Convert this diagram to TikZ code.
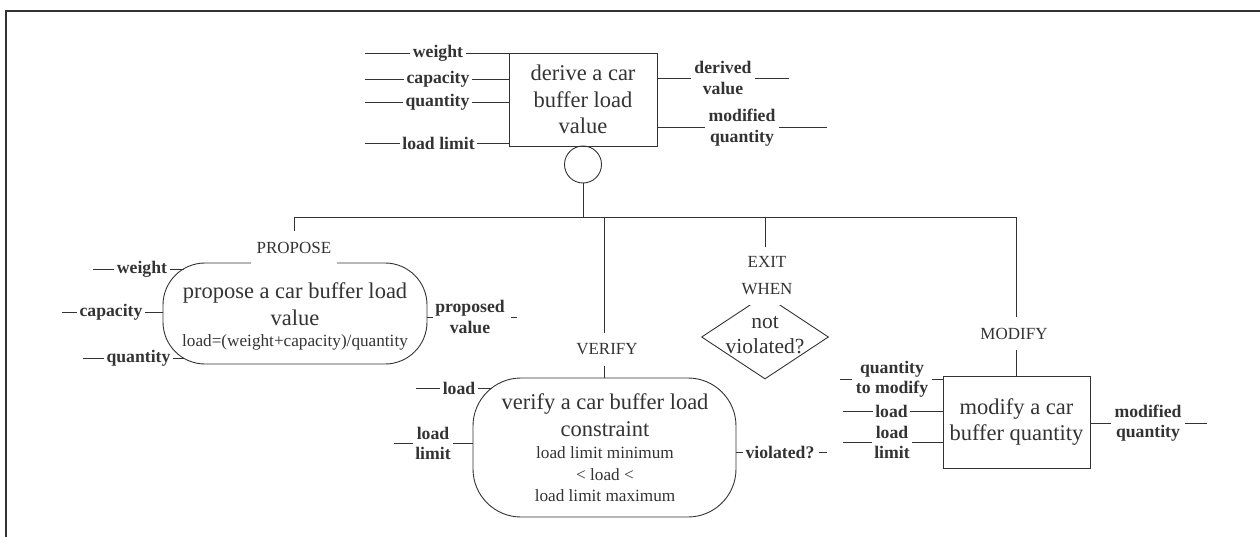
\documentclass[tikz,border=0pt]{standalone}
\usepackage{fontspec}
\setmainfont{Liberation Serif}
\usetikzlibrary{shapes.geometric}
\definecolor{ink}{HTML}{333333}
\begin{document}
\begin{tikzpicture}[x=1pt,y=-1pt,line width=0.9pt,color=ink,
  lbl/.style={font=\bfseries\fontsize{17.7}{20.5}\selectfont,align=center,inner xsep=2pt,inner ysep=1pt},
  bigt/.style={font=\fontsize{22.5}{26.5}\selectfont,align=center,inner sep=0pt},
  smallt/.style={font=\fontsize{17.2}{21.5}\selectfont,align=center,inner sep=0pt},
  capl/.style={font=\fontsize{17}{27}\selectfont,align=center,fill=white,minimum height=34pt,inner xsep=6pt,inner ysep=0pt},
  procbox/.style={draw,inner sep=0pt}]
\useasboundingbox (0,0) rectangle (1260,537);
% frame
\draw[line width=2pt] (6,537) -- (6,11) -- (1260,11);

% ---------- top process ----------
\node[procbox,bigt,minimum width=148pt,minimum height=93pt] (derive) at (583,99.5) {derive a car\\buffer load\\value};
\node[draw,circle,minimum size=37pt,inner sep=0pt] (join) at (583,164.5) {};

\coordinate (barL) at (294,217);
\coordinate (barR) at (1016,217);
\coordinate (barV) at (604,217);
\coordinate (barE) at (765,217);
\draw (barL) -- (barR);
\draw (join.south) -- (join.south |- barL);

% top inputs
\coordinate (dw0) at (365,53);
\coordinate (dc0) at (365,79);
\coordinate (dq0) at (365,102);
\coordinate (dl0) at (365,143);
\node[lbl] (dw) at (438,53) {weight};
\node[lbl] (dc) at (438,79) {capacity};
\node[lbl] (dq) at (437.5,102) {quantity};
\node[lbl] (dl) at (438.5,143) {load limit};
\draw (dw0) -- (dw.west); \draw (dw.east) -- (dw.east -| derive.west);
\draw (dc0) -- (dc.west); \draw (dc.east) -- (dc.east -| derive.west);
\draw (dq0) -- (dq.west); \draw (dq.east) -- (dq.east -| derive.west);
\draw (dl0) -- (dl.west); \draw (dl.east) -- (dl.east -| derive.west);

% top outputs
\node[lbl,inner xsep=3pt] (dv) at (723,78) {derived\\value};
\node[lbl,inner xsep=3pt] (dm) at (742,127.5) {modified\\quantity};
\coordinate (dv1) at (789,78);
\coordinate (dm1) at (827,127.5);
\draw (dv.west -| derive.east) -- (dv.west); \draw (dv.east) -- (dv1);
\draw (dm.west -| derive.east) -- (dm.west); \draw (dm.east) -- (dm1);

% ---------- PROPOSE ----------
\node[procbox,rounded corners=42pt,minimum width=264pt,minimum height=101pt] (propose) at (295,313.5) {};
\node[bigt] (proposeT) at (295,304) {propose a car buffer load\\value};
\node[smallt] (proposeF) at (295,342) {load=(weight+capacity)/quantity};
\node[capl] (proposeL) at (294,248) {PROPOSE};
\draw (barL) -- (proposeL.north);

\coordinate (pw0) at (93,269);
\coordinate (pc0) at (62,312);
\coordinate (pq0) at (83,358);
\coordinate (pw1) at (184,269);
\coordinate (pq1) at (184,358);
\node[lbl] (pw) at (142,269) {weight};
\node[lbl] (pc) at (111,312) {capacity};
\node[lbl] (pq) at (138.5,358) {quantity};
\draw (pw0) -- (pw.west); \draw (pw.east) -- (pw1);
\draw (pc0) -- (pc.west); \draw (pc.east) -- (pc.east -| propose.west);
\draw (pq0) -- (pq.west); \draw (pq.east) -- (pq1);

\node[lbl] (pv) at (470,317) {proposed\\value};
\coordinate (pv1) at (517,317);
\draw (pv.west -| propose.east) -- (pv.west);
\draw ([xshift=4pt]pv.east) -- (pv1);

% ---------- VERIFY ----------
\node[procbox,rounded corners=48pt,minimum width=263pt,minimum height=139pt] (verify) at (604.5,447.5) {};
\node[bigt] (verifyT) at (605,415) {verify a car buffer load\\constraint};
\node[smallt] (verifyF) at (605,474.5) {load limit minimum\\< load <\\load limit maximum};
\node[capl,minimum height=33pt] (verifyL) at (607,349.5) {VERIFY};
\draw (barV) -- (barV |- verifyL.north);
\draw (barV |- verifyL.south) -- (barV |- verify.north);

\coordinate (vl0) at (416,388);
\coordinate (vl1) at (492,388);
\coordinate (vm0) at (394,443.5);
\node[lbl] (vl) at (459,388) {load};
\node[lbl] (vm) at (433,443.5) {load\\limit};
\draw (vl0) -- (vl.west); \draw (vl.east) -- (vl1);
\draw (vm0) -- (vm.west); \draw (vm.east) -- (vm.east -| verify.west);

\node[lbl] (vo) at (780,452) {violated?};
\coordinate (vo1) at (827,452);
\draw (vo.west -| verify.east) -- (vo.west);
\draw ([xshift=2pt]vo.east) -- (vo1);

% ---------- EXIT WHEN ----------
\node[draw,diamond,minimum width=127pt,minimum height=84pt,inner sep=0pt] (cond) at (765,337) {};
\node[bigt,font=\fontsize{21.5}{25}\selectfont] (condT) at (765,335.5) {not\\violated?};
\node[capl,minimum height=58pt] (exitL) at (767,276) {EXIT\\WHEN};
\draw (barE) -- (barE |- exitL.north);

% ---------- MODIFY ----------
\node[procbox,bigt,minimum width=147pt,minimum height=92pt] (modify) at (1016.5,422) {modify a car\\buffer quantity};
\node[capl,minimum height=33pt] (modifyL) at (1014,333.5) {MODIFY};
\draw (barR) -- (barR |- modifyL.north);
\draw (barR |- modifyL.south) -- (barR |- modify.north);

\coordinate (mq0) at (840,379.5);
\coordinate (ml0) at (843,411);
\coordinate (mm0) at (843,442.5);
\node[lbl,inner xsep=3pt] (mq) at (892,379.5) {quantity\\to modify};
\node[lbl] (ml) at (891.5,411) {load};
\node[lbl] (mm) at (892,442.5) {load\\limit};
\draw (mq0) -- (mq.west); \draw (mq.east) -- (mq.east -| modify.west);
\draw (ml0) -- (ml.west); \draw (ml.east) -- (ml.east -| modify.west);
\draw (mm0) -- (mm.west); \draw (mm.east) -- (mm.east -| modify.west);

\node[lbl,inner xsep=3pt] (mo) at (1148,423) {modified\\quantity};
\coordinate (mo1) at (1207,423);
\draw (mo.west -| modify.east) -- (mo.west);
\draw (mo.east) -- (mo1);
\end{tikzpicture}
\end{document}
